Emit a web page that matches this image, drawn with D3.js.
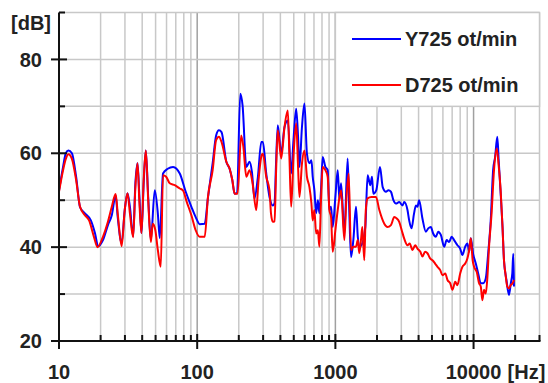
<!DOCTYPE html>
<html>
<head>
<meta charset="utf-8">
<script src="https://cdn.jsdelivr.net/npm/d3@7"></script>
<style>
  body { margin: 0; background: #fff; }
  text { font-family: "Liberation Sans", Arial, sans-serif; font-weight: bold; fill: #222; }
</style>
</head>
<body>
<svg id="chart" width="548" height="383"></svg>
<script>
// [Hz, dB]
const y725 = [
  [10, 52], [10.7, 57.1], [11.2, 60], [11.7, 60.6], [12.4, 60], [13.3, 55], [14.2, 48.5],
  [15.4, 47.2], [17, 45.7], [18.2, 43], [19.2, 40.2], [20.8, 41.5], [22.6, 44.7], [24.1, 46.8],
  [25.7, 51], [26.6, 46.4], [28.4, 40.9], [29.9, 47.9], [31.3, 51.5], [32.6, 48.6], [34.4, 42.3],
  [35.7, 53.6], [37, 57.9], [38.2, 50.7], [39.5, 43], [41.1, 54.3], [42.5, 60.6], [44.2, 50.7],
  [46.2, 41.5], [49.3, 52.1], [51.9, 47.2], [53.6, 41.9], [56.6, 55.7], [61.2, 56.7], [66.9, 57.1],
  [74.8, 55.7], [82.6, 51.8], [90.8, 48.6], [97.5, 46.4], [104.2, 44.9], [113.3, 45], [119.7, 50.6],
  [129.4, 57.9], [137.1, 63.8], [143.7, 64.9], [150, 64.5], [162.5, 58.2], [171.7, 56.7], [179.5, 54.3],
  [186.7, 51.4], [194.3, 51.5], [205, 72.7], [213, 70.2], [226.7, 57.1], [239.3, 58.2], [249, 56],
  [259.7, 50.4], [275, 55], [291, 62.4], [298.8, 62.4], [316, 55.7], [333.7, 50.7], [352.6, 48.9],
  [363, 49.4], [372, 57.8], [383, 66], [405.5, 60], [428.5, 65.6], [452.6, 67], [478.9, 55.7],
  [497.5, 62.8], [520.4, 69.5], [537, 63.5], [549.8, 57.1], [573, 65.6], [597.3, 70.6], [622.6, 59.9],
  [649, 57.9], [671, 58.5], [685.5, 55], [705, 52.1], [725.6, 47.2], [747, 50], [766, 47.2],
  [787, 52.1], [809.4, 59.2], [846.5, 57.1], [879.7, 56.4], [905, 47.9], [930.5, 48.6], [956.5, 44.3],
  [1000, 50.7], [1040, 56.4], [1070, 50], [1100, 53.6], [1161, 42.9], [1227, 58.9], [1260, 47.9],
  [1298, 37.9], [1349, 41.5], [1410, 48.6], [1453, 42.2], [1490, 40.1], [1567, 40.8], [1647, 44.3],
  [1711, 55.3], [1790, 53.2], [1841, 55], [1880, 51.4], [1975, 52.1], [2103, 57.1], [2200, 52.8],
  [2323, 51.8], [2420, 52.1], [2524, 51.8], [2630, 50], [2742, 49.3], [2897, 49.6], [3060, 48.9],
  [3149, 49.6], [3325, 47.9], [3421, 45.7], [3555, 44], [3710, 47.2], [3826, 48.9], [3926, 48.6],
  [4037, 50], [4266, 46.1], [4516, 43.3], [4700, 44], [4907, 44.3], [5100, 42.9], [5333, 42.2],
  [5550, 43.3], [5798, 42.6], [6126, 40.1], [6390, 41.5], [6657, 41.1], [6940, 42.2], [7230, 41.5],
  [7641, 40.4], [8000, 39.7], [8299, 38.3], [8700, 40.1], [9019, 40.8], [9300, 39], [9546, 41.9],
  [9920, 38.6], [10377, 36.5], [10800, 34.4], [11276, 32.3], [11750, 32.3], [12252, 33.3],
  [12750, 38.6], [13309, 45.7], [13850, 56.4], [14320, 59.2], [14855, 63.5], [15200, 58.5],
  [15707, 51.4], [16200, 44.3], [16600, 37.2], [17300, 33], [18037, 29.8], [18600, 32.3],
  [19068, 34.4], [19384, 38.6], [19600, 31.6]
];

const d725 = [
  [10, 51.8], [10.7, 56.4], [11.2, 58.8], [11.7, 59.8], [12.4, 58.8], [13.3, 54.3], [14.2, 48.6],
  [15.4, 46.8], [16.5, 45.7], [17.9, 42.2], [19, 40], [20.8, 42.2], [22.6, 45.4], [24.1, 48.6],
  [25.7, 51.3], [26.6, 47.2], [28.4, 40.2], [29.9, 47.9], [31.3, 51.5], [32.6, 47.2], [34.4, 42.1],
  [35.7, 52.8], [37, 57.9], [38.2, 49.3], [39.5, 43], [41.1, 55], [42.5, 60.6], [44.2, 50],
  [46.2, 41.1], [47.7, 45], [49.8, 43.6], [51.9, 39.4], [54.5, 35.8], [56.6, 55.3], [59.6, 55],
  [63.3, 53.6], [68.8, 53.2], [74.8, 52.5], [78.9, 52.1], [84.1, 49.6], [90.8, 46.8], [97.5, 43.6],
  [104.2, 42.2], [113.3, 42.2], [119.7, 50.7], [129.4, 56.4], [137.1, 62.8], [143.7, 63.5],
  [150, 62.4], [162.5, 58.2], [171.7, 56.7], [179.5, 54.3], [186.7, 51.4], [196.1, 51.4],
  [208, 63.8], [216, 61.3], [226.7, 55], [239.3, 56.4], [251.6, 53.6], [267.5, 47.9], [278, 54.3],
  [293, 59.6], [298.8, 59.9], [316, 55], [333.7, 52.1], [342, 47.2], [352.6, 45.4], [363, 45.5],
  [372, 55.7], [383, 64.9], [405.5, 58.9], [428.5, 65.6], [452.6, 69.1], [465, 59.2], [478.9, 48.6],
  [497.5, 59.2], [520.4, 66.4], [537, 57.1], [549.8, 50.7], [573, 57.8], [597.3, 60.6], [622.6, 55],
  [649, 52.8], [671, 49.3], [685.5, 45.7], [705, 47.9], [725.6, 42.9], [747, 43.6], [766, 40.1],
  [787, 50], [809.4, 57.1], [846.5, 56.4], [879.7, 55], [905, 47.9], [930.5, 46.4], [956.5, 39],
  [1000, 43.6], [1040, 47.9], [1100, 52.1], [1161, 41.5], [1200, 50], [1248, 55.7], [1298, 39.4],
  [1349, 40.1], [1410, 40.1], [1453, 41.5], [1490, 38.7], [1540, 42.2], [1567, 44.3], [1619, 37.2],
  [1660, 47.9], [1711, 50.4], [1820, 50.7], [1967, 50.7], [2080, 47.9], [2259, 45], [2380, 44.3],
  [2524, 44.7], [2667, 46.4], [2780, 46.1], [2897, 45.4], [3020, 43.6], [3149, 41.8], [3325, 40.4],
  [3450, 40.8], [3613, 39.4], [3780, 40.4], [3926, 39.7], [4120, 39], [4266, 38], [4460, 39],
  [4636, 38.7], [4850, 37.6], [5043, 37.2], [5270, 36.5], [5483, 35.8], [5740, 35.1], [5960, 34],
  [6240, 34.4], [6475, 33], [6780, 32.3], [7033, 30.9], [7360, 32.6], [7641, 31.9], [8000, 34.4],
  [8299, 35.8], [8700, 36.5], [9019, 37.6], [9300, 39.4], [9546, 41.9], [9850, 37.2], [10088, 35.8],
  [10550, 34.7], [10962, 32.3], [11276, 31.6], [11580, 28.7], [11900, 30.9], [12252, 30.1],
  [12600, 33.7], [12942, 40.1], [13500, 47.2], [14058, 56.4], [14710, 61], [15150, 57.8],
  [15707, 52.1], [16200, 44.3], [16600, 37.2], [17000, 34.4], [17540, 31.6], [18037, 31.2],
  [18560, 31.9], [19150, 32.3], [19600, 33]
];

const seriesNames = ["Y725 ot/min", "D725 ot/min"];
const seriesColors = ["#0000ff", "#ff0000"];
const yLabelTicks = [20, 40, 60, 80];
const yMinorTicks = [30, 50, 70, 90];
const xLabelTicks = [10, 100, 1000, 10000];

const svg = d3.select("#chart");
const mLeft = 59, mRight = 539.5, mTop = 12.5, mBottom = 341;

const x = d3.scaleLog().domain([10, 30000]).range([mLeft, mRight]);
const y = d3.scaleLinear().domain([20, 90]).range([mBottom, mTop]);

// all 1..9 multiples between 10 and 30000
const xGrid = [];
for (let dec = 10; dec <= 10000; dec *= 10) {
  for (let m = 1; m <= 9; m++) {
    const v = dec * m;
    if (v <= 30000) xGrid.push(v);
  }
}
const xMinor = xGrid.filter(v => xLabelTicks.indexOf(v) < 0);

// grid
svg.append("g")
  .selectAll("line")
  .data(xMinor)
  .enter()
  .append("line")
  .attr("x1", d => x(d)).attr("x2", d => x(d))
  .attr("y1", mTop).attr("y2", mBottom)
  .attr("stroke", "#c8c8c8")
  .attr("stroke-width", 1.5);

svg.append("g")
  .selectAll("line")
  .data(xLabelTicks.slice(1))
  .enter()
  .append("line")
  .attr("x1", d => x(d)).attr("x2", d => x(d))
  .attr("y1", mTop).attr("y2", mBottom)
  .attr("stroke", "#a0a0a0")
  .attr("stroke-width", 1.5);

svg.append("g")
  .selectAll("line")
  .data(d3.range(30, 91, 10))
  .enter()
  .append("line")
  .attr("x1", mLeft).attr("x2", mRight)
  .attr("y1", d => y(d)).attr("y2", d => y(d))
  .attr("stroke", "#c8c8c8")
  .attr("stroke-width", 1.5);

// curves
const line = d3.line()
  .x(d => x(d[0]))
  .y(d => y(d[1]))
  .curve(d3.curveMonotoneX);

[y725, d725].forEach(function (s, i) {
  svg.append("path")
    .datum(s)
    .attr("fill", "none")
    .attr("stroke", seriesColors[i])
    .attr("stroke-width", 2)
    .attr("stroke-linejoin", "round")
    .attr("d", line);
});

// legend
svg.append("rect")
  .attr("x", x(1000)).attr("y", mTop)
  .attr("width", mRight - x(1000)).attr("height", y(70) - mTop)
  .attr("fill", "#fff")
  .attr("stroke", "#c8c8c8")
  .attr("stroke-width", 1.5);

seriesNames.forEach(function (name, i) {
  const ly = 39 + i * 46;
  svg.append("line")
    .attr("x1", 352).attr("x2", 401)
    .attr("y1", ly).attr("y2", ly)
    .attr("stroke", seriesColors[i])
    .attr("stroke-width", 2);
  svg.append("text")
    .attr("x", 405).attr("y", ly + 7)
    .attr("font-size", 20)
    .text(name);
});

// axes
svg.append("line")
  .attr("x1", mLeft).attr("x2", mLeft)
  .attr("y1", mTop).attr("y2", mBottom)
  .attr("stroke", "#111").attr("stroke-width", 2);
svg.append("line")
  .attr("x1", mLeft - 7).attr("x2", mRight + 1)
  .attr("y1", mBottom).attr("y2", mBottom)
  .attr("stroke", "#111").attr("stroke-width", 2);

svg.append("g")
  .selectAll("line")
  .data(yLabelTicks)
  .enter()
  .append("line")
  .attr("x1", mLeft - 8).attr("x2", mLeft + 8)
  .attr("y1", d => y(d)).attr("y2", d => y(d))
  .attr("stroke", "#111").attr("stroke-width", 2);

svg.append("g")
  .selectAll("line")
  .data(yMinorTicks)
  .enter()
  .append("line")
  .attr("x1", mLeft).attr("x2", mLeft + 6)
  .attr("y1", d => y(d)).attr("y2", d => y(d))
  .attr("stroke", "#111").attr("stroke-width", 2);

svg.append("g")
  .selectAll("line")
  .data(xLabelTicks)
  .enter()
  .append("line")
  .attr("x1", d => x(d)).attr("x2", d => x(d))
  .attr("y1", mBottom - 7).attr("y2", mBottom + 8)
  .attr("stroke", "#111").attr("stroke-width", 2);

svg.append("g")
  .selectAll("line")
  .data(xMinor)
  .enter()
  .append("line")
  .attr("x1", d => x(d)).attr("x2", d => x(d))
  .attr("y1", mBottom - 6).attr("y2", mBottom)
  .attr("stroke", "#111").attr("stroke-width", 2);

// labels
svg.append("g")
  .selectAll("text")
  .data(yLabelTicks)
  .enter()
  .append("text")
  .attr("x", 42)
  .attr("y", d => y(d))
  .attr("dy", "0.36em")
  .attr("text-anchor", "end")
  .attr("font-size", 20)
  .text(d => d);

svg.append("g")
  .selectAll("text")
  .data(xLabelTicks)
  .enter()
  .append("text")
  .attr("x", d => x(d))
  .attr("y", 379)
  .attr("text-anchor", "middle")
  .attr("font-size", 20)
  .text(d => d);

svg.append("text")
  .attr("x", x(10000) + 34).attr("y", 379)
  .attr("font-size", 20)
  .text("[Hz]");

svg.append("text")
  .attr("x", 11).attr("y", 30)
  .attr("font-size", 20)
  .text("[dB]");
</script>
</body>
</html>
